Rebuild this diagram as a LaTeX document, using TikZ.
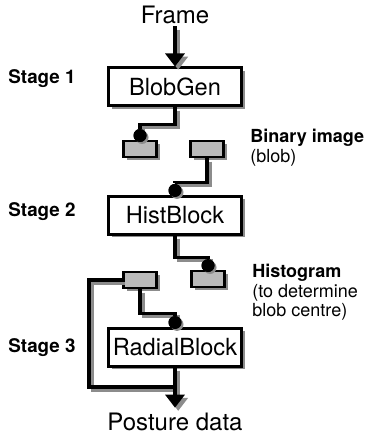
\documentclass[tikz,border=0pt]{standalone}
\usepackage{fontspec}
\setmainfont{TeX Gyre Heros}
\usetikzlibrary{arrows.meta,shadows}
\tikzstyle{block}=[draw,line width=1.5pt,fill=white,minimum width=66.5pt,minimum height=19pt,inner sep=0pt,font=\fontsize{11.8}{13}\selectfont,drop shadow={shadow xshift=1.6pt,shadow yshift=-1.6pt,fill=black!45,opacity=1}]
\tikzstyle{buffer}=[draw,line width=1.4pt,fill=black!27,minimum width=16.5pt,minimum height=8pt,inner sep=0pt,drop shadow={shadow xshift=1.6pt,shadow yshift=-1.6pt,fill=black!45,opacity=1}]
\tikzstyle{port}=[circle,fill=black,minimum size=6.5pt,inner sep=0pt]
\tikzstyle{stage}=[font=\fontsize{9.4}{11}\selectfont\bfseries,anchor=west,inner sep=0pt]
\tikzstyle{note}=[font=\fontsize{9}{9.6}\selectfont,align=left,anchor=north west,inner sep=0pt]
\tikzstyle{io}=[font=\fontsize{12}{14}\selectfont,inner sep=1pt]
\tikzstyle{wire}=[line width=1.7pt]
\tikzstyle{flow}=[wire,-{Triangle[length=6.5pt,width=9.5pt]}]

\begin{document}
\begin{tikzpicture}[x=0.5pt,y=-0.5pt]
    \useasboundingbox (0,0) rectangle (371,438);
    % data in and out
    \node[io] (frame) at (175,15) {Frame};
    \node[io] (posture) at (175,422) {Posture data};
    % the three stages
    \foreach \name/\y/\text in {blobgen/87/BlobGen, hist/215/HistBlock, radial/347/RadialBlock}
        \node[block] (\name) at (175,\y) {\text};
    \foreach \y/\n in {79/1, 212/2, 348/3}
        \node[stage] at (8,\y) {Stage \n};
    % buffers between the stages
    \foreach \name/\pos in {bufA/{(140,149)}, bufB/{(207,149)}, bufC/{(208,279)}, bufD/{(140,280)}}
        \node[buffer] (\name) at \pos {};
    \node[note] (binary) at (250,129) {\textbf{Binary image}\\(blob)};
    \node[note] (histo) at (252,264) {\textbf{Histogram}\\(to determine\\blob centre)};
    % read and write ports, sitting on top of the box they feed
    \foreach \name/\at in {pA/bufA, pB/hist, pC/bufC, pD/radial}
        \node[port,anchor=south,yshift=-1.4pt,drop shadow={shadow xshift=1pt,shadow yshift=-1pt,fill=black!45,opacity=1}] (\name) at (\at.north) {};
    \coordinate (fb) at (89,387);
    % connectors, grey copy first as the shadow
    \foreach \shade/\off in {black!45/1.6pt, black/0pt}
    {
    \begin{scope}[transform canvas={xshift=\off,yshift=-\off},draw=\shade]
        \draw[flow,\shade] (frame) -- (blobgen);
        \draw[wire,\shade] (blobgen.south) -- ++(0,17) -| (pA);
        \draw[wire,\shade] (bufB.south) -- ++(0,24) -| (pB);
        \draw[wire,\shade] (hist.south) -- ++(0,22) -| (pC);
        \draw[wire,\shade] (bufD.south) -- ++(0,24) -| (pD);
        \draw[wire,\shade] (bufD.west) -| (fb) -- (fb -| radial.south);
        \draw[flow,\shade,shorten >=1.5pt] (radial.south) -- (posture.north);
    \end{scope}
    }
    \foreach \name in {pA,pB,pC,pD}
        \node[port] at (\name) {};
\end{tikzpicture}
\end{document}
